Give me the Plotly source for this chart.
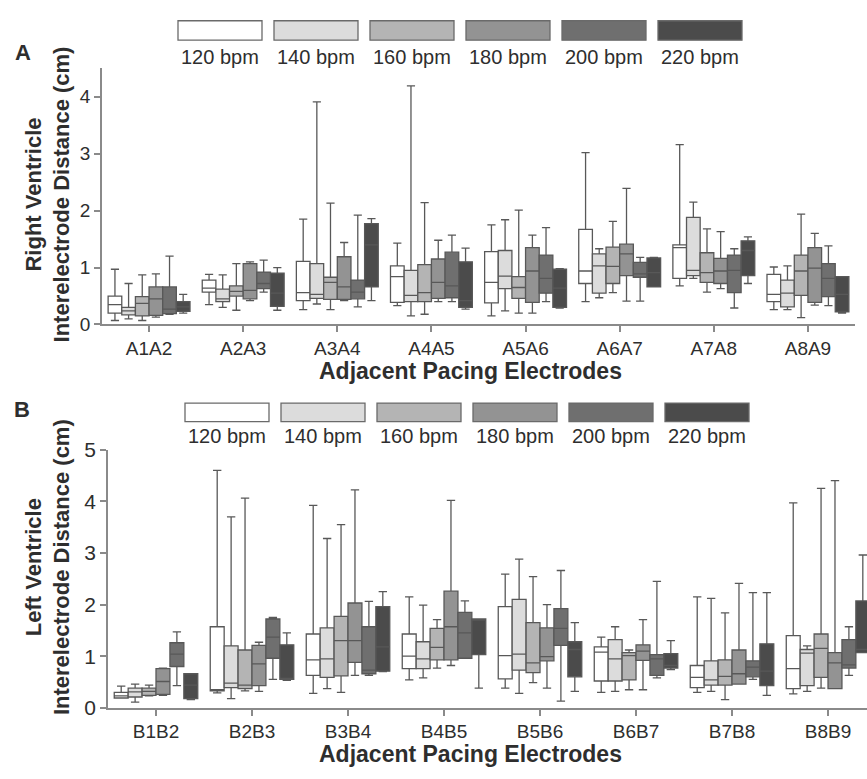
import plotly.graph_objects as go

W, H = 867, 779
FONT = "Liberation Sans, Arial, sans-serif"
INK = "#2e2e2e"
AXIS = "#8a8a8a"
BOX_LINE = "#585858"

rates = ["120 bpm", "140 bpm", "160 bpm", "180 bpm", "200 bpm", "220 bpm"]
fills = ["#ffffff", "#dcdcdc", "#b4b4b4", "#939393", "#6f6f6f", "#4b4b4b"]

rv_pairs = ["A1A2", "A2A3", "A3A4", "A4A5", "A5A6", "A6A7", "A7A8", "A8A9"]
lv_pairs = ["B1B2", "B2B3", "B3B4", "B4B5", "B5B6", "B6B7", "B7B8", "B8B9"]

# Right ventricle: one row per pacing rate, one column per electrode pair (cm)
rv_lo = [
    [0.07, 0.35, 0.26, 0.33, 0.15, 0.40, 0.68, 0.26],
    [0.10, 0.30, 0.36, 0.15, 0.24, 0.47, 0.81, 0.26],
    [0.07, 0.25, 0.26, 0.18, 0.20, 0.56, 0.57, 0.12],
    [0.13, 0.42, 0.42, 0.40, 0.20, 0.41, 0.63, 0.34],
    [0.18, 0.57, 0.31, 0.40, 0.40, 0.41, 0.29, 0.33],
    [0.20, 0.25, 0.42, 0.27, 0.29, 0.66, 0.72, 0.20],
]
rv_q1 = [
    [0.20, 0.57, 0.42, 0.39, 0.38, 0.72, 0.81, 0.40],
    [0.17, 0.40, 0.46, 0.40, 0.63, 0.55, 0.86, 0.31],
    [0.15, 0.50, 0.44, 0.40, 0.46, 0.72, 0.74, 0.51],
    [0.16, 0.45, 0.44, 0.46, 0.39, 0.86, 0.72, 0.39],
    [0.19, 0.63, 0.45, 0.47, 0.55, 0.83, 0.56, 0.49],
    [0.23, 0.32, 0.66, 0.30, 0.30, 0.66, 0.86, 0.22],
]
rv_med = [
    [0.35, 0.64, 0.56, 0.84, 0.74, 0.94, 1.35, 0.53],
    [0.24, 0.45, 0.53, 0.51, 0.85, 1.03, 0.95, 0.55],
    [0.37, 0.58, 0.74, 0.56, 0.65, 1.02, 0.91, 0.94],
    [0.45, 0.60, 0.66, 0.74, 0.94, 1.24, 0.94, 0.99],
    [0.27, 0.72, 0.57, 0.68, 0.81, 0.89, 0.95, 0.81],
    [0.31, 0.55, 1.40, 0.42, 0.64, 0.91, 1.30, 0.53],
]
rv_q3 = [
    [0.50, 0.78, 1.11, 1.03, 1.28, 1.67, 1.40, 0.88],
    [0.30, 0.62, 1.07, 0.95, 1.30, 1.24, 1.88, 0.78],
    [0.49, 0.68, 0.83, 1.05, 0.84, 1.36, 1.26, 1.22],
    [0.66, 1.07, 1.19, 1.15, 1.35, 1.41, 1.16, 1.35],
    [0.66, 0.92, 0.78, 1.27, 1.22, 1.09, 1.22, 1.07],
    [0.40, 0.90, 1.77, 1.10, 0.97, 1.17, 1.47, 0.84],
]
rv_hi = [
    [0.97, 0.88, 1.85, 1.43, 1.75, 3.02, 3.16, 1.01],
    [0.72, 0.87, 3.91, 4.19, 1.84, 1.33, 2.15, 1.03],
    [0.87, 1.07, 2.13, 2.14, 2.01, 1.81, 1.68, 1.94],
    [0.89, 1.10, 1.44, 1.48, 1.57, 2.39, 1.63, 1.60],
    [1.20, 1.13, 1.92, 1.57, 1.70, 1.18, 1.33, 1.38],
    [0.53, 1.00, 1.86, 1.34, 0.98, 1.18, 1.54, 0.84],
]

# Left ventricle: one row per pacing rate, one column per electrode pair (cm)
lv_lo = [
    [0.19, 0.29, 0.28, 0.54, 0.38, 0.30, 0.30, 0.27],
    [0.11, 0.18, 0.37, 0.58, 0.28, 0.32, 0.32, 0.32],
    [0.23, 0.33, 0.30, 0.77, 0.49, 0.35, 0.16, 0.38],
    [0.24, 0.32, 0.63, 0.82, 0.38, 0.35, 0.46, 0.37],
    [0.43, 0.55, 0.63, 0.96, 0.13, 0.58, 0.55, 0.63],
    [0.16, 0.53, 0.70, 0.38, 0.32, 0.74, 0.24, 1.07],
]
lv_q1 = [
    [0.19, 0.33, 0.63, 0.76, 0.56, 0.52, 0.39, 0.37],
    [0.21, 0.39, 0.59, 0.76, 0.73, 0.52, 0.44, 0.43],
    [0.24, 0.37, 0.62, 0.93, 0.68, 0.54, 0.44, 0.59],
    [0.26, 0.43, 0.88, 0.93, 0.91, 0.92, 0.46, 0.37],
    [0.80, 0.96, 0.66, 0.96, 1.21, 0.63, 0.60, 0.77],
    [0.18, 0.55, 0.71, 1.03, 0.60, 0.77, 0.43, 1.07],
]
lv_med = [
    [0.23, 0.35, 0.93, 1.00, 1.01, 1.08, 0.59, 0.76],
    [0.31, 0.48, 0.95, 0.95, 1.04, 0.95, 0.54, 1.06],
    [0.32, 0.44, 1.30, 1.17, 0.87, 1.01, 0.61, 1.15],
    [0.51, 0.85, 1.30, 1.57, 0.99, 1.10, 0.66, 0.87],
    [1.04, 1.37, 0.73, 1.45, 1.54, 0.95, 0.79, 0.83],
    [0.44, 0.56, 1.18, 1.70, 1.13, 0.82, 0.71, 1.13],
]
lv_q3 = [
    [0.30, 1.57, 1.43, 1.43, 1.96, 1.18, 0.82, 1.40],
    [0.38, 1.20, 1.55, 1.28, 2.10, 1.32, 0.91, 1.13],
    [0.38, 1.12, 1.77, 1.54, 1.65, 1.07, 0.93, 1.43],
    [0.76, 1.21, 2.03, 2.26, 1.55, 1.22, 1.12, 1.07],
    [1.26, 1.72, 1.57, 1.85, 1.92, 1.03, 0.91, 1.32],
    [0.66, 1.22, 1.96, 1.72, 1.28, 1.05, 1.24, 2.07],
]
lv_hi = [
    [0.42, 4.60, 3.92, 2.15, 2.59, 1.37, 2.15, 3.97],
    [0.46, 3.70, 3.28, 1.99, 2.88, 1.57, 2.12, 1.20],
    [0.44, 4.06, 3.55, 1.71, 2.54, 1.12, 1.84, 4.25],
    [0.77, 1.27, 4.22, 4.02, 2.00, 1.71, 2.41, 4.40],
    [1.47, 1.75, 2.06, 2.07, 2.66, 2.45, 2.23, 1.57],
    [0.66, 1.45, 2.25, 1.72, 1.65, 1.30, 2.23, 2.96],
]


def px(x):
    return x / W


def py(y):
    return 1 - y / H


fig = go.Figure()


def add_panel(pairs, lo, q1, med, q3, hi, xaxis, yaxis):
    for i, rate in enumerate(rates):
        fig.add_trace(go.Box(
            x=pairs, lowerfence=lo[i], q1=q1[i], median=med[i], q3=q3[i],
            upperfence=hi[i], name=rate, offsetgroup=rate,
            fillcolor=fills[i], line=dict(color=BOX_LINE, width=1.3),
            whiskerwidth=0.6, boxpoints=False, showlegend=False,
            hoverinfo="skip", xaxis=xaxis, yaxis=yaxis,
        ))


add_panel(rv_pairs, rv_lo, rv_q1, rv_med, rv_q3, rv_hi, "x", "y")
add_panel(lv_pairs, lv_lo, lv_q1, lv_med, lv_q3, lv_hi, "x2", "y2")

axis_common = dict(
    showline=True, linecolor=AXIS, linewidth=1.5, showgrid=False,
    zeroline=False, ticks="outside", tickcolor=AXIS, ticklen=6, tickwidth=1.5,
)

fig.update_layout(
    width=W, height=H,
    margin=dict(l=0, r=0, t=0, b=0),
    paper_bgcolor="white", plot_bgcolor="white",
    boxmode="group", boxgap=0.13, boxgroupgap=0,
    font=dict(family=FONT, color=INK),
    xaxis=dict(domain=[px(102), px(855)], anchor="y", range=[-0.5, 7.5],
               tickfont=dict(size=19, color=INK), **axis_common),
    yaxis=dict(domain=[py(322), py(58)], anchor="x", range=[0, 4.5],
               tickvals=[0, 1, 2, 3, 4], tickfont=dict(size=19, color=INK),
               **axis_common),
    xaxis2=dict(domain=[px(108), 1.0], anchor="y2", range=[-0.5, 7.406],
                tickfont=dict(size=19, color=INK), **axis_common),
    yaxis2=dict(domain=[py(717), py(451)], anchor="x2", range=[0, 5],
                tickvals=[0, 1, 2, 3, 4, 5], tickfont=dict(size=21, color=INK),
                **axis_common),
)

annotations = []
shapes = []


def text(x, y, s, size, bold=False, angle=0):
    annotations.append(dict(
        x=px(x), y=py(y), xref="paper", yref="paper",
        text=f"<b>{s}</b>" if bold else s, showarrow=False,
        textangle=angle, xanchor="center", yanchor="middle",
        font=dict(family=FONT, size=size, color=INK),
    ))


def legend_row(x0, top, bottom, text_y):
    for i, rate in enumerate(rates):
        left = x0 + i * 96
        shapes.append(dict(
            type="rect", xref="paper", yref="paper",
            x0=px(left), x1=px(left + 84), y0=py(bottom), y1=py(top),
            fillcolor=fills[i], line=dict(color="#6a6a6a", width=1.3),
        ))
        text(left + 42, text_y, rate, 20)


# panel A
text(23, 42, "A", 22, bold=True)
legend_row(178, 9, 29, 46)
text(48, 188, "Right Ventricle<br>Interelectrode Distance (cm)", 22, bold=True, angle=-90)
text(470, 370, "Adjacent Pacing Electrodes", 23, bold=True)

# panel B
text(22, 410, "B", 22, bold=True)
legend_row(185, 403, 422, 437)
text(48, 572, "Left Ventricle<br>Interelectrode Distance (cm)", 22, bold=True, angle=-90)
text(470, 765, "Adjacent Pacing Electrodes", 23, bold=True)

fig.update_layout(annotations=annotations, shapes=shapes)

fig.write_html("out.html")
